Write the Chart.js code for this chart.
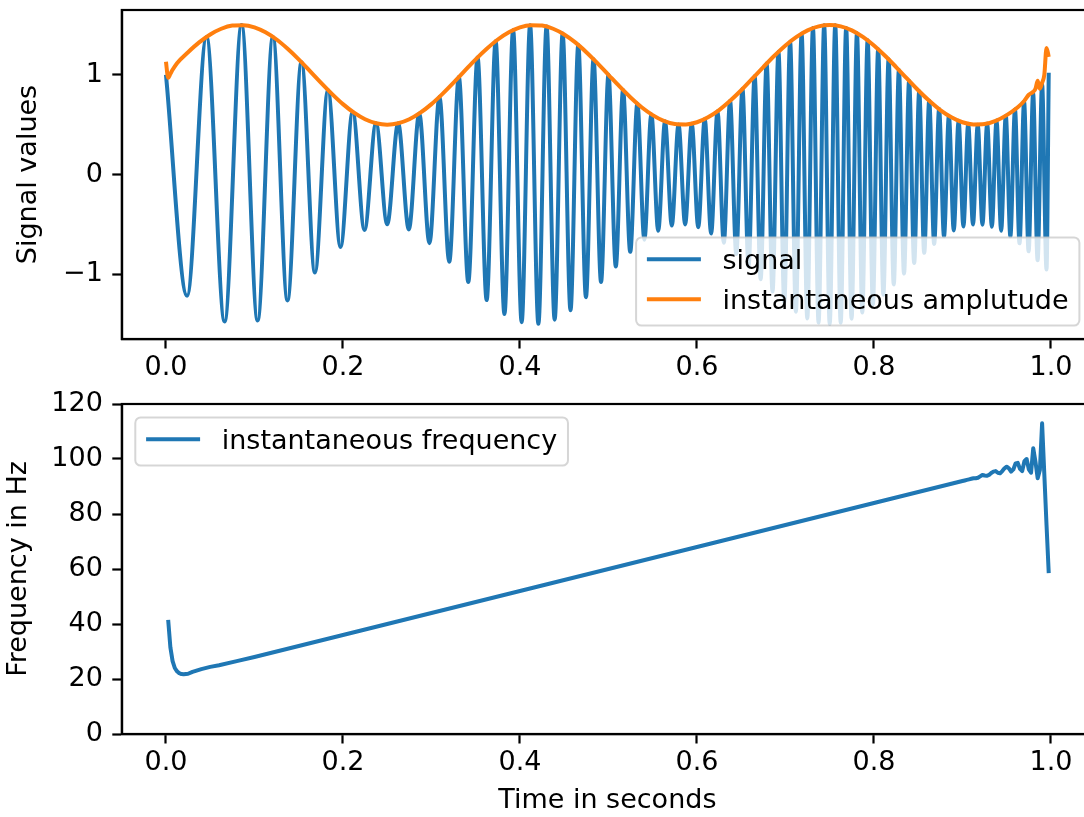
<!DOCTYPE html>
<html><head><meta charset="utf-8">
<script src="https://cdn.jsdelivr.net/npm/chart.js@4.4.1/dist/chart.umd.min.js"></script>
<style>
html,body{margin:0;padding:0;background:#fff;overflow:hidden;width:1084px;height:817px;}
canvas{position:absolute;left:0;}
#c1{top:0}
#c2{top:385px}
</style></head><body>
<canvas id="c1" width="1100" height="385"></canvas>
<canvas id="c2" width="1100" height="440"></canvas>
<script>
// ---- data ----
const sigT = [0, 0.02386, 0.04580, 0.06623, 0.08541, 0.10355, 0.12081, 0.13730, 0.15311, 0.16833, 0.18301, 0.19721, 0.21098, 0.22434, 0.23734, 0.25, 0.26235, 0.27441, 0.28619, 0.29772, 0.30902, 0.32009, 0.33095, 0.34161, 0.35208, 0.36237, 0.37250, 0.38246, 0.39226, 0.40192, 0.41144, 0.42082, 0.43007, 0.43920, 0.44821, 0.45711, 0.46589, 0.47457, 0.48314, 0.49162, 0.5, 0.50829, 0.51649, 0.52460, 0.53262, 0.54057, 0.54844, 0.55623, 0.56394, 0.57158, 0.57916, 0.58666, 0.59410, 0.60147, 0.60878, 0.61603, 0.62321, 0.63034, 0.63741, 0.64443, 0.65139, 0.65830, 0.66515, 0.67196, 0.67871, 0.68541, 0.69207, 0.69868, 0.70525, 0.71177, 0.71825, 0.72468, 0.73107, 0.73742, 0.74373, 0.75, 0.75623, 0.76242, 0.76858, 0.77470, 0.78078, 0.78682, 0.79283, 0.79881, 0.80475, 0.81066, 0.81654, 0.82238, 0.82819, 0.83397, 0.83973, 0.84545, 0.85114, 0.85680, 0.86243, 0.86803, 0.87361, 0.87916, 0.88468, 0.89018, 0.89564, 0.90109, 0.90650, 0.91190, 0.91726, 0.92260, 0.92792, 0.93322, 0.93849, 0.94373, 0.94896, 0.95416, 0.95934, 0.96450, 0.96963, 0.97475, 0.97984, 0.98491, 0.98996, 0.99499, 0.9975];
const sigY = [1.000, -1.217, 1.380, -1.474, 1.500, -1.464, 1.380, -1.263, 1.126, -0.984,
  0.848, -0.728, 0.629, -0.557, 0.514, -0.500, 0.514, -0.552, 0.612, -0.689,
  0.779, -0.876, 0.977, -1.078, 1.173, -1.260, 1.337, -1.400, 1.448, -1.481,
  1.498, -1.498, 1.484, -1.456, 1.414, -1.362, 1.300, -1.231, 1.156, -1.079,
  1.000, -0.922, 0.847, -0.776, 0.712, -0.654, 0.604, -0.564, 0.533, -0.512,
  0.502, -0.501, 0.510, -0.529, 0.556, -0.592, 0.634, -0.684, 0.738, -0.797,
  0.858, -0.921, 0.986, -1.050, 1.113, -1.173, 1.230, -1.284, 1.332, -1.376,
  1.413, -1.444, 1.469, -1.486, 1.497, -1.500, 1.497, -1.486, 1.470, -1.447,
  1.418, -1.384, 1.346, -1.303, 1.257, -1.207, 1.156, -1.103, 1.048, -0.994,
  0.940, -0.887, 0.835, -0.786, 0.739, -0.696, 0.656, -0.620, 0.588, -0.561,
  0.539, -0.521, 0.509, -0.502, 0.500, -0.503, 0.511, -0.524, 0.542, -0.564,
  0.590, -0.620, 0.653, -0.690, 0.729, -0.771, 0.814, -0.860, 0.906, -0.953,
  1.020];

const envT = [0, 0.0025, 0.005, 0.0075, 0.0125, 0.025, 0.0375, 0.05, 0.0625, 0.075, 0.0875, 0.1, 0.1125, 0.125, 0.1375, 0.15, 0.1625, 0.175, 0.1875, 0.2, 0.2125, 0.225, 0.2375, 0.25, 0.2625, 0.275, 0.2875, 0.3, 0.3125, 0.325, 0.3375, 0.35, 0.3625, 0.375, 0.3875, 0.4, 0.4125, 0.425, 0.4375, 0.45, 0.4625, 0.475, 0.4875, 0.5, 0.5125, 0.525, 0.5375, 0.55, 0.5625, 0.575, 0.5875, 0.6, 0.6125, 0.625, 0.6375, 0.65, 0.6625, 0.675, 0.6875, 0.7, 0.7125, 0.725, 0.7375, 0.75, 0.7625, 0.775, 0.7875, 0.8, 0.8125, 0.825, 0.8375, 0.85, 0.8625, 0.875, 0.8875, 0.9, 0.9125, 0.925, 0.9375, 0.95, 0.9625, 0.97, 0.975, 0.98, 0.9825, 0.985, 0.9875, 0.99, 0.9925, 0.995, 0.9975];
const envY = [1.13, 0.97, 1.01, 1.05, 1.117, 1.227, 1.325, 1.405, 1.462, 1.494, 1.498, 1.476, 1.426, 1.354, 1.261, 1.155, 1.039, 0.922, 0.809, 0.706, 0.620, 0.554, 0.514, 0.500, 0.514, 0.554, 0.620, 0.706, 0.809, 0.922, 1.039, 1.155, 1.261, 1.354, 1.426, 1.476, 1.498, 1.494, 1.462, 1.405, 1.325, 1.227, 1.117, 1.000, 0.883, 0.773, 0.675, 0.596, 0.538, 0.506, 0.502, 0.524, 0.574, 0.646, 0.739, 0.845, 0.961, 1.078, 1.191, 1.294, 1.380, 1.446, 1.486, 1.500, 1.486, 1.446, 1.380, 1.294, 1.191, 1.078, 0.961, 0.845, 0.739, 0.646, 0.574, 0.524, 0.502, 0.506, 0.538, 0.596, 0.675, 0.74, 0.80, 0.83, 0.86, 0.94, 0.86, 0.92, 1.00, 1.27, 1.18];

const freqT = [0.0025, 0.005, 0.0075, 0.01, 0.0125, 0.015, 0.0175, 0.02, 0.025, 0.03, 0.04, 0.05, 0.06, 0.08, 0.1, 0.2, 0.3, 0.4, 0.5, 0.6, 0.7, 0.8, 0.9,
  0.9025, 0.905, 0.9075, 0.91, 0.9125, 0.915, 0.9175, 0.92, 0.9225, 0.925, 0.9275, 0.93, 0.9325, 0.935, 0.9375, 0.94, 0.9425, 0.945, 0.9475, 0.95,
  0.9525, 0.955, 0.9575, 0.96, 0.9625, 0.965, 0.9675, 0.97, 0.9725, 0.975, 0.9775, 0.98, 0.9825, 0.985, 0.9875, 0.99, 0.9925, 0.995, 0.9975];
const freqY = [41.5, 31.5, 26.5, 24.0, 22.8, 22.1, 21.8, 21.7, 21.9, 22.6, 23.6, 24.4, 25.0, 26.5, 28.0, 36.0, 44.0, 52.0, 60.0, 68.0, 76.0, 84.0, 92.0,
  92.2, 92.4, 92.6, 92.8, 93.0, 93.0, 93.2, 93.7, 94.2, 94.0, 93.9, 94.2, 94.9, 95.4, 95.6, 95.0, 94.8, 95.6, 96.6, 97.2,
  96.6, 95.4, 96.2, 98.4, 98.6, 96.4, 95.6, 99.2, 100.0, 96.2, 95.0, 103.9, 99.0, 93.0, 96.0, 113.0, 94.5, 76.0, 58.5];

const xTicks = [0, 0.2, 0.4, 0.6, 0.8, 1.0];
const sigTicks = [-1, 0, 1];
const freqTicks = [0, 20, 40, 60, 80, 100, 120];

// ---- styling ----
const FONT = 'DejaVu Sans';
const FS = 27;
const AX_LEFT = 121.8;
const BLUE = '#1f77b4', ORANGE = '#ff7f0e';
const LW = 4;

function pts(xs, ys) { return xs.map((x, i) => ({x: x, y: ys[i]})); }

const mplFrame = {
  id: 'mplFrame',
  afterDatasetsDraw(chart, args, opts) {
    const ctx = chart.ctx, a = chart.chartArea;
    ctx.save();
    ctx.strokeStyle = '#000';
    ctx.lineWidth = 2.2;
    ctx.strokeRect(a.left, a.top, a.right - a.left, a.bottom - a.top);
    const lg = opts.legend;
    if (lg) {
      ctx.font = FS + 'px "' + FONT + '"';
      const tw = Math.max.apply(null, lg.items.map(it => ctx.measureText(it.label).width));
      const pad = 0.4 * FS, hl = 2 * FS, htp = 0.8 * FS, rowH = 26.5, ls = 0.5 * FS, bap = 0.5 * FS;
      const n = lg.items.length;
      const w = pad + hl + htp + tw + pad;
      const h = 2 * pad + n * rowH + (n - 1) * ls;
      let x, y;
      if (lg.loc === 'lower right') { x = a.right - bap - w; y = a.bottom - bap - h; }
      else { x = a.left + bap; y = a.top + bap; }
      const r = 0.2 * FS;
      ctx.beginPath();
      ctx.moveTo(x + r, y);
      ctx.lineTo(x + w - r, y);
      ctx.arcTo(x + w, y, x + w, y + r, r);
      ctx.lineTo(x + w, y + h - r);
      ctx.arcTo(x + w, y + h, x + w - r, y + h, r);
      ctx.lineTo(x + r, y + h);
      ctx.arcTo(x, y + h, x, y + h - r, r);
      ctx.lineTo(x, y + r);
      ctx.arcTo(x, y, x + r, y, r);
      ctx.closePath();
      ctx.fillStyle = 'rgba(255,255,255,0.8)';
      ctx.fill();
      ctx.strokeStyle = 'rgba(204,204,204,0.8)';
      ctx.lineWidth = 2;
      ctx.stroke();
      lg.items.forEach((it, i) => {
        const rowTop = y + pad + i * (rowH + ls);
        const base = rowTop + 20.5;
        ctx.beginPath();
        ctx.strokeStyle = it.color;
        ctx.lineWidth = LW;
        ctx.moveTo(x + pad, base - 9.5);
        ctx.lineTo(x + pad + hl, base - 9.5);
        ctx.stroke();
        ctx.fillStyle = '#000';
        ctx.textBaseline = 'alphabetic';
        ctx.textAlign = 'left';
        ctx.fillText(it.label, x + pad + hl + htp, base);
      });
    }
    ctx.restore();
  }
};

function tickFont() { return {family: FONT, size: FS, lineHeight: 1.2}; }

function xScale(showTitle, height) {
  return {
    type: 'linear', min: -0.0499, max: 1.0474,
    afterBuildTicks: s => { s.ticks = xTicks.map(v => ({value: v})); },
    afterFit: s => { s.height = height; s.paddingLeft = 0; s.paddingRight = 0; s.paddingTop = 0; s.paddingBottom = 0; },
    ticks: {font: tickFont(), color: '#000', padding: 3.6, maxRotation: 0, autoSkip: false,
      callback: v => Number(v).toFixed(1)},
    grid: {drawOnChartArea: false, drawTicks: true, tickLength: 9.5, tickWidth: 2.2, tickColor: '#000'},
    border: {display: true, color: '#000', width: 2.2},
    title: showTitle ? {display: true, text: 'Time in seconds', color: '#000', font: {family: FONT, size: FS, lineHeight: 1.2}, padding: {top: 0, bottom: 8.2}} : {display: false}
  };
}

function yScale(min, max, tickVals, fmt, title, titlePad) {
  return {
    type: 'linear', min: min, max: max,
    afterBuildTicks: s => { s.ticks = tickVals.map(v => ({value: v})); },
    afterFit: s => { s.width = AX_LEFT; s.paddingLeft = 0; s.paddingRight = 0; s.paddingTop = 0; s.paddingBottom = 0; },
    ticks: {font: tickFont(), color: '#000', padding: 9.4, autoSkip: false, callback: fmt},
    grid: {drawOnChartArea: false, drawTicks: true, tickLength: 9.5, tickWidth: 2.2, tickColor: '#000'},
    border: {display: true, color: '#000', width: 2.2},
    title: {display: true, text: title, color: '#000', font: {family: FONT, size: FS, lineHeight: 1.2}, padding: {top: titlePad, bottom: 0}}
  };
}

const common = {
  responsive: false, animation: false, devicePixelRatio: 1, events: [],
  elements: {point: {radius: 0}}
};

new Chart(document.getElementById('c1'), {
  type: 'line',
  data: {datasets: [
    {label: 'signal', data: pts(sigT, sigY), borderColor: BLUE, borderWidth: LW, pointRadius: 0,
      cubicInterpolationMode: 'monotone', borderJoinStyle: 'round', order: 1},
    {label: 'instantaneous amplutude', data: pts(envT, envY), borderColor: ORANGE, borderWidth: LW, pointRadius: 0,
      cubicInterpolationMode: 'monotone', borderJoinStyle: 'round', order: 0}
  ]},
  options: Object.assign({}, common, {
    layout: {padding: {left: 0, top: 10, right: 7.1, bottom: 0}},
    scales: {
      x: xScale(false, 46),
      y: yScale(-1.65, 1.65, sigTicks, v => v < 0 ? '\u2212' + Math.abs(v) : String(v), 'Signal values', 13.2)
    },
    plugins: {legend: {display: false}, tooltip: {enabled: false},
      mplFrame: {legend: {loc: 'lower right', items: [
        {label: 'signal', color: BLUE}, {label: 'instantaneous amplutude', color: ORANGE}]}}}
  }),
  plugins: [mplFrame]
});

new Chart(document.getElementById('c2'), {
  type: 'line',
  data: {datasets: [
    {label: 'instantaneous frequency', data: pts(freqT, freqY), borderColor: BLUE, borderWidth: LW, pointRadius: 0,
      tension: 0, borderJoinStyle: 'round'}
  ]},
  options: Object.assign({}, common, {
    layout: {padding: {left: 0, top: 19, right: 7.1, bottom: 0}},
    scales: {
      x: xScale(true, 91),
      y: yScale(0, 120, freqTicks, v => String(v), 'Frequency in Hz', 2.7)
    },
    plugins: {legend: {display: false}, tooltip: {enabled: false},
      mplFrame: {legend: {loc: 'upper left', items: [{label: 'instantaneous frequency', color: BLUE}]}}}
  }),
  plugins: [mplFrame]
});
</script>
</body></html>
